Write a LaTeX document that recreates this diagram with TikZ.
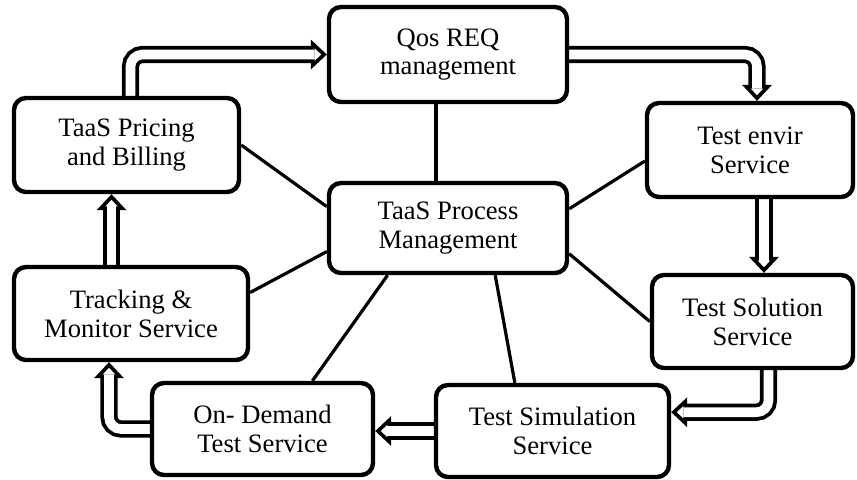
\documentclass[tikz,border=0pt]{standalone}
\usepackage{fontspec}
\setmainfont{Liberation Serif}
\usetikzlibrary{arrows.meta,backgrounds}

\begin{document}
\begin{tikzpicture}[x=0.5pt,y=-0.5pt,
box/.style={draw,fill=white,line width=2.2pt,rounded corners=6pt,align=center,
  inner sep=0pt,font=\fontsize{13.3}{14.4}\selectfont},
link/.style={line width=1.6pt},
hollow/.style={draw=white,line width=4.8pt,rounded corners=6pt,shorten >=2.8pt,
  -{Triangle[line width=0pt,length=3.3pt,width=6.2pt]},
  preaction={draw=black,line width=8.6pt,shorten >=0pt,
  -{Triangle[line width=0pt,length=8pt,width=15pt]}}}]
\useasboundingbox (0,0) rectangle (857,479);
\node[box,minimum width=119pt,minimum height=47.5pt] (qos) at (448,54.5) {Qos REQ\\management};
\node[box,minimum width=112.5pt,minimum height=47pt] (price) at (126.5,145) {TaaS Pricing\\and Billing};
\node[box,minimum width=103pt,minimum height=47pt] (envir) at (750,150) {Test envir\\Service};
\node[box,minimum width=119pt,minimum height=45pt] (proc) at (448,228) {TaaS Process\\Management};
\node[box,minimum width=117pt,minimum height=46.5pt] (track) at (131,313.5) {Tracking \&\\Monitor Service};
\node[box,minimum width=100.5pt,minimum height=46.5pt] (sol) at (752.5,321.5) {Test Solution\\Service};
\node[box,minimum width=110.5pt,minimum height=46pt] (demand) at (262.5,429) {On- Demand\\Test Service};
\node[box,minimum width=116.5pt,minimum height=46pt] (sim) at (552.5,431) {Test Simulation\\Service};
% spokes to the process node
\draw[link] ([xshift=-6pt]qos.south) -- ([xshift=-6pt]proc.north);
\draw[link] (price.east) -- (proc.170);
\draw[link] (track.10) -- (proc.191);
\draw[link] (proc.218) -- (demand.44);
\draw[link] (proc.315) -- (sim.128);
\draw[link] (proc.348) -- (sol.west);
\draw[link] (proc.9) -- (envir.186);
% service cycle, behind the boxes
\begin{scope}[on background layer]
\draw[hollow] ([xshift=2pt]price.north) |- (qos.west);
\draw[hollow] (qos.east) -| ([xshift=3.5pt]envir.north);
\draw[hollow] ([xshift=7pt]envir.south) -- ([xshift=7pt]envir.south |- sol.north);
\draw[hollow] ([xshift=8pt]sol.south) |- (sim.9);
\draw[hollow] (sim.west) -- (sim.west -| demand.east);
\draw[hollow] (demand.west) -| ([xshift=-11pt]track.south);
\draw[hollow] ([xshift=-7.5pt]price.south |- track.north) -- ([xshift=-7.5pt]price.south);
\end{scope}
\end{tikzpicture}
\end{document}
